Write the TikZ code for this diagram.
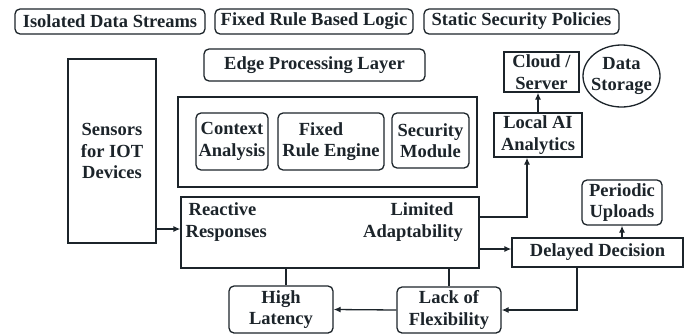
\documentclass[tikz,border=0pt]{standalone}
\usepackage{fontspec}
\setmainfont{Liberation Serif}
\usetikzlibrary{calc, arrows.meta, shapes.geometric}

\definecolor{ink}{RGB}{28,36,42}

\begin{document}
\begin{tikzpicture}[x=1pt, y=-1pt, line width=1.3pt, color=ink,
  every node/.style={font=\fontsize{18.5}{21.5}\selectfont\bfseries, align=center, inner sep=1pt},
  box/.style={draw, rectangle},
  rbox/.style={draw, rectangle, rounded corners=5pt},
  arr/.style={-{Latex[length=7pt, width=6pt]}}]

\useasboundingbox (0,0) rectangle (691,335);

% top row: limits of the classic setup
\node[rbox, minimum width=190pt, minimum height=25pt] (iso) at (110,21.5) {Isolated Data Streams};
\node[rbox, minimum width=198pt, minimum height=25pt] (rules) at (314,21.5) {Fixed Rule Based Logic};
\node[rbox, minimum width=195pt, minimum height=25pt] (policy) at (521.5,21.5) {Static Security Policies};

% title of the edge layer
\node[rbox, minimum width=221pt, minimum height=32pt] (edge) at (314.5,65) {Edge Processing Layer};

% sensors on the left
\node[box, minimum width=88pt, minimum height=184pt] (sens) at (112,151) {Sensors\\for IOT\\Devices};

% frame holding the three modules
\node[box, minimum width=299pt, minimum height=90pt] (core) at (327.5,142) {};
\node[rbox, minimum width=72pt, minimum height=57pt] (ctx) at (232,141.5) {Context\\Analysis};
\node[rbox, minimum width=106pt, minimum height=57pt] (engine) at (331,141.5) {Fixed\hspace*{20pt}\\Rule Engine};
\node[rbox, minimum width=77pt, minimum height=55pt] (secmod) at (430.5,140.5) {Security\\Module};

% response block, two labels inside
\node[box, minimum width=298pt, minimum height=71pt] (resp) at (330,232.5) {};
\node[anchor=west, align=left] (react) at (184,222) {\hspace*{3pt}Reactive\\Responses};
\node (adapt) at (413,222) {\hspace*{18pt}Limited\\Adaptability};

% cloud side
\node[box, minimum width=75pt, minimum height=40pt] (cloud) at (541.5,72) {Cloud /\\Server};
\node[draw, ellipse, minimum width=77pt, minimum height=62pt, inner sep=0pt] (store) at (621.5,76) {};
\node (storetxt) at (store) {Data\\Storage};
\node[box, minimum width=88pt, minimum height=44pt] (lai) at (538,135) {Local AI\\Analytics};

% outcomes
\node[rbox, minimum width=80pt, minimum height=45pt] (upl) at (622,202.5) {Periodic\\Uploads};
\node[box, minimum width=171pt, minimum height=29pt] (dd) at (597.5,252.5) {Delayed Decision};
\node[rbox, minimum width=104pt, minimum height=46pt] (flex) at (449,310) {Lack of\\Flexibility};
\node[rbox, minimum width=104pt, minimum height=47pt] (lat) at (281,309.5) {High\\Latency};

% helper points for the connectors
\coordinate (kIn) at (0,229);
\coordinate (kLat) at (286,0);
\coordinate (kUp) at (527,217);
\coordinate (kMid) at (0,249);
\coordinate (kDown) at (577,0);

% connectors
\draw[arr] (sens.east |- kIn) -- (resp.west |- kIn);
\draw (resp.south -| kLat) -- (lat.north -| kLat);
\draw (resp.south -| flex.north) -- (flex.north);
\draw[arr] (resp.east |- kUp) -| (lai.south -| kUp);
\draw[arr] (lai.north) -- (lai.north |- cloud.south);
\draw[arr] (resp.east |- kMid) -- (dd.west |- kMid);
\draw[arr] (dd.north -| upl.south) -- (upl.south);
\draw[arr] (dd.south -| kDown) |- (flex.east);
\draw[arr] (flex.west) -- (lat.east);

\end{tikzpicture}
\end{document}
